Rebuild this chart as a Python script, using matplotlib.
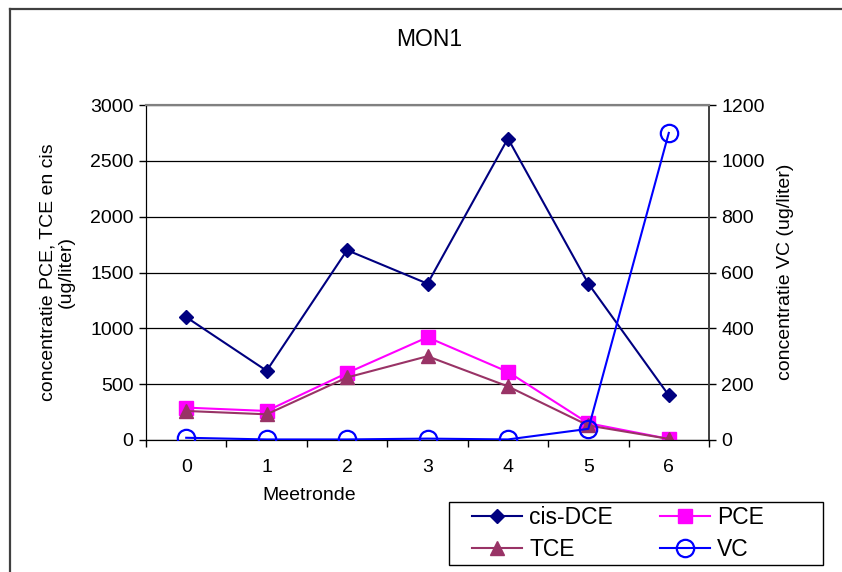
import matplotlib.pyplot as plt
from matplotlib.lines import Line2D
from matplotlib.patches import Rectangle

plt.rcParams['font.family'] = ['Liberation Sans', 'DejaVu Sans']

rondes = [0, 1, 2, 3, 4, 5, 6]
cis_dce = [1100, 620, 1700, 1400, 2700, 1400, 400]
pce = [290, 260, 600, 920, 610, 150, 10]
tce = [260, 230, 560, 750, 480, 130, 10]
vc = [8, 2, 2, 5, 2, 40, 1100]

left_ticks = [0, 500, 1000, 1500, 2000, 2500, 3000]
right_ticks = [0, 200, 400, 600, 800, 1000, 1200]

W, H = 842, 572
fig = plt.figure(figsize=(W/100, H/100), dpi=100)
ax = fig.add_axes([146/W, 1 - 440/H, (709-146)/W, (440-105)/H])
ax2 = ax.twinx()

# outer chart frame, only left and top edge fall inside the image
frame_x = 10/W
frame_y = 1 - 9/H
fig.lines.append(Line2D([frame_x, frame_x], [0, frame_y], transform=fig.transFigure,
                        color='#404040', lw=1.6))
fig.lines.append(Line2D([frame_x, 1.05], [frame_y, frame_y], transform=fig.transFigure,
                        color='#404040', lw=1.6))

l1, = ax.plot(rondes, cis_dce, color='#000080', lw=1.5, marker='D', ms=7.5,
              label='cis-DCE', zorder=3)
l2, = ax.plot(rondes, pce, color='#FF00FF', lw=1.5, marker='s', ms=10,
              label='PCE', zorder=3)
l3, = ax.plot(rondes, tce, color='#993366', lw=1.5, marker='^', ms=10,
              label='TCE', zorder=3)
l4, = ax2.plot(rondes, vc, color='#0000FF', lw=1.5, marker='o', ms=12.5,
               mfc='none', mew=1.6, label='VC', zorder=3)

ax.set_xlim(-0.5, 6.5)
ax.set_ylim(0, 3000)
ax2.set_ylim(0, 1200)

# category axis: ticks between categories, labels centred
ax.set_xticks([x - 0.5 for x in rondes] + [6.5])
ax.set_xticklabels([])
ax.set_xticks(rondes, minor=True)
ax.set_xticklabels([str(r) for r in rondes], minor=True)
ax.tick_params(axis='x', which='minor', length=0, pad=14, labelsize=14)
ax.tick_params(axis='x', which='major', length=5, width=1, direction='out')

ax.set_yticks(left_ticks)
ax.tick_params(axis='y', length=5, width=1, direction='out', labelsize=14, pad=4)
ax2.set_yticks(right_ticks)
ax2.tick_params(axis='y', length=5, width=1, direction='out', labelsize=14, pad=4)

ax.yaxis.grid(True, color='black', linewidth=0.9)
ax.set_axisbelow(True)

for a in (ax, ax2):
    a.spines['top'].set_color('#808080')
    a.spines['top'].set_linewidth(1.5)
    a.spines['left'].set_color('black')
    a.spines['bottom'].set_color('black')
    a.spines['right'].set_color('#404040')
    a.spines['right'].set_linewidth(1.2)

fig.text(429/W, 1 - 40/H, 'MON1', fontsize=16.5, ha='center', va='center')
fig.text(309/W, 1 - 495/H, 'Meetronde', fontsize=14, ha='center', va='center')
fig.text(57/W, 1 - 272/H, 'concentratie PCE, TCE en cis\n(ug/liter)',
         fontsize=14, rotation=90, ha='center', va='center', linespacing=1.15,
         multialignment='center')
fig.text(786/W, 1 - 272/H, 'concentratie VC (ug/liter)', fontsize=14,
         rotation=90, ha='center', va='center')

# legend box drawn separately so the inner padding can be wider than tall
fig.patches.append(Rectangle((449/W, 1 - 565/H), (823-449)/W, (565-502)/H,
                             transform=fig.transFigure, fill=False,
                             edgecolor='black', linewidth=1.0))
leg = fig.legend([l1, l3, l2, l4], ['cis-DCE', 'TCE', 'PCE', 'VC'],
                 ncol=2, loc='upper left',
                 bbox_to_anchor=(472/W, 1 - 506/H),
                 fontsize=16.5, frameon=False, handlelength=2.2,
                 handletextpad=0.3, columnspacing=2.05,
                 borderpad=0, labelspacing=0.4, borderaxespad=0)

fig.savefig('out.png', dpi=100)
